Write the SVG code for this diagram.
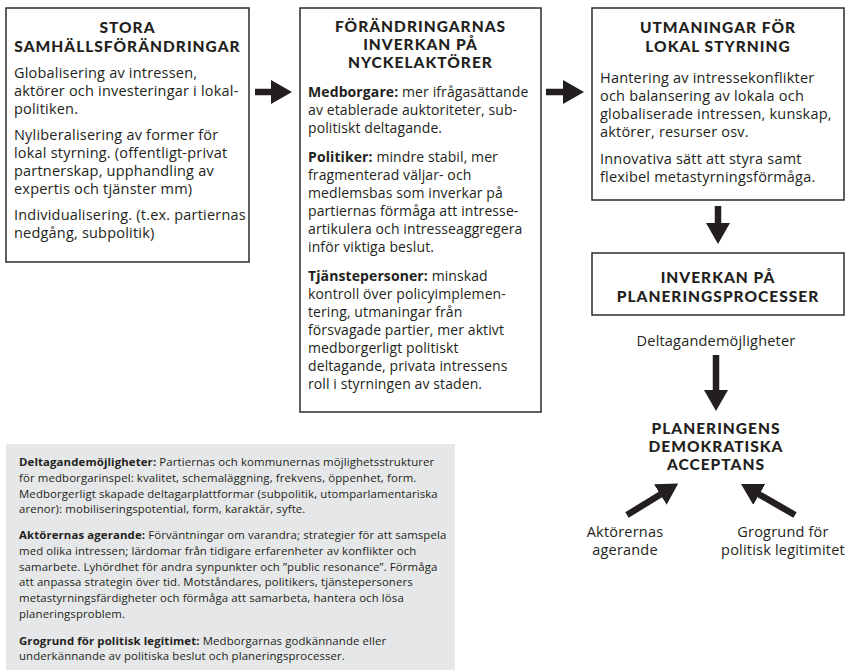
<svg xmlns="http://www.w3.org/2000/svg" width="848" height="672" viewBox="0 0 848 672">
<style>
.box{fill:#fff;stroke:#2b2b2b;stroke-width:1.5}
.h{font-family:Lato,"Open Sans",sans-serif;font-weight:900;font-size:15.5px;fill:#231f20;text-anchor:middle;letter-spacing:1px}
.t{font-family:"Open Sans","Noto Sans",sans-serif;font-size:14.5px;fill:#231f20;letter-spacing:0.2px}
.t2{font-family:"Open Sans","Noto Sans",sans-serif;font-size:14px;fill:#231f20;letter-spacing:0.1px}
.b{font-weight:700}
.c{text-anchor:middle}
.s{font-family:"Open Sans","Noto Sans",sans-serif;font-size:11.4px;fill:#231f20;letter-spacing:0.12px}
.con{stroke:#231f20;stroke-width:6.5;fill:none;marker-end:url(#ah)}
</style>
<defs>
<marker id="ah" viewBox="0 0 21 24" refX="2" refY="12" markerWidth="21" markerHeight="24" orient="auto" markerUnits="userSpaceOnUse"><path d="M0,0 L21,12 L0,24 Z" fill="#231f20"/></marker>
</defs>
<rect width="848" height="672" fill="#fff"/>
<g id="stora">
<rect class="box" x="6" y="8" width="243" height="254"/>
<text class="h" x="127.5" y="33">STORA</text>
<text class="h" x="127.5" y="52">SAMHÄLLSFÖRÄNDRINGAR</text>
<text class="t" x="14" y="78">Globalisering av intressen,</text>
<text class="t" x="14" y="96">aktörer och investeringar i lokal-</text>
<text class="t" x="14" y="114">politiken.</text>
<text class="t" x="14" y="140">Nyliberalisering av former för</text>
<text class="t" x="14" y="158">lokal styrning. (offentligt-privat</text>
<text class="t" x="14" y="176">partnerskap, upphandling av</text>
<text class="t" x="14" y="194">expertis och tjänster mm)</text>
<text class="t" x="14" y="220">Individualisering. (t.ex. partiernas</text>
<text class="t" x="14" y="238">nedgång, subpolitik)</text>
</g>
<g id="inverkan-aktorer">
<rect class="box" x="300" y="8" width="241" height="404"/>
<text class="h" x="420.5" y="32">FÖRÄNDRINGARNAS</text>
<text class="h" x="420.5" y="50">INVERKAN PÅ</text>
<text class="h" x="420.5" y="68">NYCKELAKTÖRER</text>
<text class="t2" x="308" y="97"><tspan class="b">Medborgare:</tspan> mer ifrågasättande</text>
<text class="t2" x="308" y="115">av etablerade auktoriteter, sub-</text>
<text class="t2" x="308" y="133">politiskt deltagande.</text>
<text class="t2" x="308" y="162"><tspan class="b">Politiker:</tspan> mindre stabil, mer</text>
<text class="t2" x="308" y="180">fragmenterad väljar- och</text>
<text class="t2" x="308" y="198">medlemsbas som inverkar på</text>
<text class="t2" x="308" y="216">partiernas förmåga att intresse-</text>
<text class="t2" x="308" y="234">artikulera och intresseaggregera</text>
<text class="t2" x="308" y="252">inför viktiga beslut.</text>
<text class="t2" x="308" y="281"><tspan class="b">Tjänstepersoner:</tspan> minskad</text>
<text class="t2" x="308" y="299">kontroll över policyimplemen-</text>
<text class="t2" x="308" y="317">tering, utmaningar från</text>
<text class="t2" x="308" y="335">försvagade partier, mer aktivt</text>
<text class="t2" x="308" y="353">medborgerligt politiskt</text>
<text class="t2" x="308" y="371">deltagande, privata intressens</text>
<text class="t2" x="308" y="389">roll i styrningen av staden.</text>
</g>
<g id="utmaningar">
<rect class="box" x="592" y="8" width="252" height="192"/>
<text class="h" x="718" y="33">UTMANINGAR FÖR</text>
<text class="h" x="718" y="52">LOKAL STYRNING</text>
<text class="t" x="600" y="83">Hantering av intressekonflikter</text>
<text class="t" x="600" y="101">och balansering av lokala och</text>
<text class="t" x="600" y="119">globaliserade intressen, kunskap,</text>
<text class="t" x="600" y="137">aktörer, resurser osv.</text>
<text class="t" x="600" y="164">Innovativa sätt att styra samt</text>
<text class="t" x="600" y="182">flexibel metastyrningsförmåga.</text>
</g>
<g id="planeringsprocesser">
<rect class="box" x="592" y="253" width="252" height="62"/>
<text class="h" x="718" y="283">INVERKAN PÅ</text>
<text class="h" x="718" y="302">PLANERINGSPROCESSER</text>
</g>
<g id="acceptans">
<text class="h" x="716" y="434">PLANERINGENS</text>
<text class="h" x="716" y="452">DEMOKRATISKA</text>
<text class="h" x="716" y="470">ACCEPTANS</text>
</g>
<g id="labels">
<text class="t c" x="716" y="346">Deltagandemöjligheter</text>
<text class="t c" x="625" y="537">Aktörernas</text>
<text class="t c" x="625" y="555">agerande</text>
<text class="t c" x="783" y="537">Grogrund för</text>
<text class="t c" x="783" y="555">politisk legitimitet</text>
</g>
<g id="connectors">
<line class="con" x1="255" y1="92" x2="273" y2="92"/>
<line class="con" x1="546" y1="92" x2="565" y2="92"/>
<line class="con" x1="718" y1="206" x2="718" y2="225"/>
<line class="con" x1="716" y1="355" x2="716" y2="392"/>
<line class="con" x1="627" y1="515" x2="662" y2="493.5"/>
<line class="con" x1="795" y1="515" x2="757.5" y2="493.5"/>
</g>
<g id="legend">
<rect x="6" y="444" width="449" height="226" fill="#e6e7e8"/>
<text class="s" x="19" y="466"><tspan class="b">Deltagandemöjligheter:</tspan> Partiernas och kommunernas möjlighetsstrukturer</text>
<text class="s" x="19" y="481.8">för medborgarinspel: kvalitet, schemaläggning, frekvens, öppenhet, form.</text>
<text class="s" x="19" y="497.6">Medborgerligt skapade deltagarplattformar (subpolitik, utomparlamentariska</text>
<text class="s" x="19" y="513.4">arenor): mobiliseringspotential, form, karaktär, syfte.</text>
<text class="s" x="19" y="539"><tspan class="b">Aktörernas agerande:</tspan> Förväntningar om varandra; strategier för att samspela</text>
<text class="s" x="19" y="554.8">med olika intressen; lärdomar från tidigare erfarenheter av konflikter och</text>
<text class="s" x="19" y="570.6">samarbete. Lyhördhet för andra synpunkter och ”public resonance”. Förmåga</text>
<text class="s" x="19" y="586.4">att anpassa strategin över tid. Motståndares, politikers, tjänstepersoners</text>
<text class="s" x="19" y="602.2">metastyrningsfärdigheter och förmåga att samarbeta, hantera och lösa</text>
<text class="s" x="19" y="618">planeringsproblem.</text>
<text class="s" x="19" y="644.5"><tspan class="b">Grogrund för politisk legitimet:</tspan> Medborgarnas godkännande eller</text>
<text class="s" x="19" y="660.3">underkännande av politiska beslut och planeringsprocesser.</text>
</g>
</svg>
